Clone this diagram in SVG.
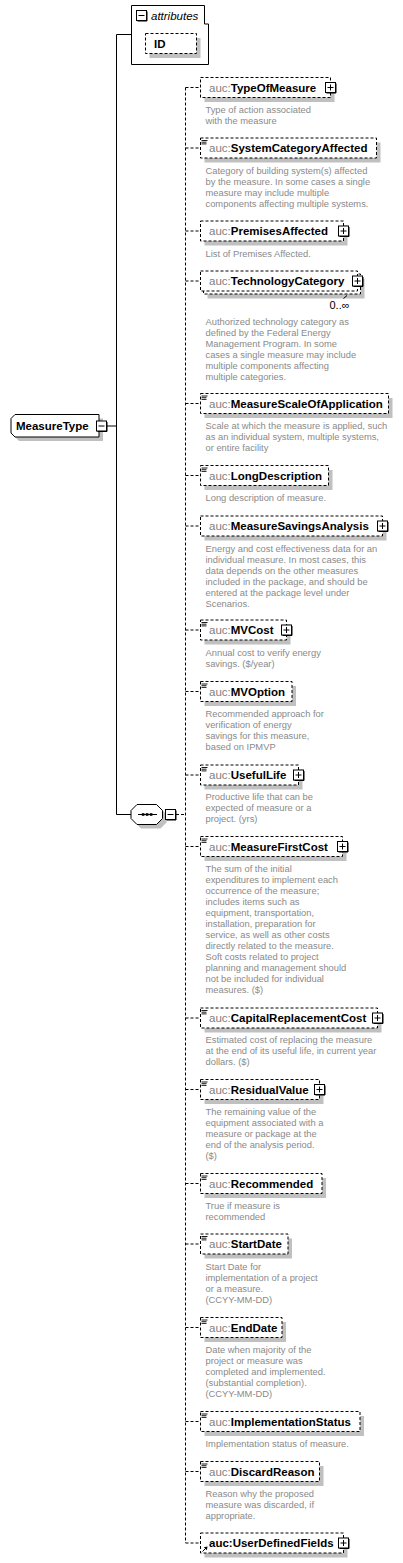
<svg xmlns="http://www.w3.org/2000/svg" width="403" height="1563" viewBox="0 0 403 1563">
<style>
.bg{fill:#fff}
.box{fill:#fff;stroke:#000;stroke-width:1;stroke-dasharray:3,2}
.sbox{fill:#fff;stroke:#000;stroke-width:1}
.sh{fill:#c0c0c0}
.name{font-family:"Liberation Sans",Arial,sans-serif;font-size:11.5px;font-weight:bold;fill:#000}
.pfx{font-weight:normal;fill:#808080}
.desc{font-family:"Liberation Sans",Arial,sans-serif;font-size:9.35px;fill:#8a8a8a}
.occ{font-family:"Liberation Sans",Arial,sans-serif;font-size:11px;fill:#000}
.attr{font-family:"Liberation Sans",Arial,sans-serif;font-size:11.5px;font-style:italic;fill:#000}
.ln{stroke:#000;stroke-width:1;fill:none}
.dln{stroke:#000;stroke-width:1;fill:none;stroke-dasharray:3,2}
</style>
<defs>
<g id="plus"><rect x="-5" y="-5" width="10" height="10" fill="#fff" stroke="#000"/><path d="M5.5,-4 V5.5 H-4" stroke="#000" fill="none"/><path d="M-3,0 H3 M0,-3 V3" stroke="#000" fill="none"/></g>
<g id="minus"><rect x="-5" y="-5" width="10" height="10" fill="#fff" stroke="#000"/><path d="M5.5,-4 V5.5 H-4" stroke="#000" fill="none"/><path d="M-3,0 H3" stroke="#000" fill="none"/></g>
<path id="eq" d="M0,0.5 H6 M0,2.2 H5 M0,3.9 H5" stroke="#000" stroke-width="0.9" fill="none"/>
</defs>
<rect class="bg" x="0" y="0" width="403" height="1563"/>

<g id="connectors">
<path class="ln" d="M116.5,34.5 V814.5 M116.5,34.5 H131.5 M106.5,426 H116.5 M116.5,814.5 H131 M162.5,814.5 H165.5"/>
<path class="dln" d="M176,814.5 H185.5 M185.5,87.5 V1543"/>
<path class="dln" d="M185.5,87.5 H200.5 M185.5,148 H200.5 M185.5,231 H200.5 M185.5,281 H200.5 M185.5,403.5 H200.5 M185.5,475.5 H200.5 M185.5,526 H200.5 M185.5,630 H200.5 M185.5,691.5 H200.5 M185.5,775 H200.5 M185.5,846.5 H200.5 M185.5,1018 H200.5 M185.5,1089.5 H200.5 M185.5,1183.5 H200.5 M185.5,1244 H200.5 M185.5,1327.5 H200.5 M185.5,1421.5 H200.5 M185.5,1471.5 H200.5 M185.5,1543 H200.5"/>
</g>

<g id="MeasureType">
<path class="sh" d="M19,418.5 H103 V441 H19 L15,437 V422.5 Z"/>
<path class="sbox" d="M15,414.5 H99 V437 H15 L11,433 V418.5 Z"/>
<text class="name" x="16" y="430">MeasureType</text>
<use href="#minus" x="101.5" y="426"/>
</g>

<g id="attributes">
<path class="sbox" d="M131.5,5.5 H204.5 V24 H208.5 V64.5 H131.5 Z"/>
<use href="#minus" x="141.5" y="15.5"/>
<text class="attr" x="151" y="19.5">attributes</text>
<g id="attr-ID">
<rect class="sh" x="149.5" y="38" width="51" height="20"/>
<rect class="box" x="145.5" y="33.5" width="51" height="20"/>
<text class="name" x="154" y="47.5">ID</text>
</g>
</g>

<g id="sequence">
<path class="sh" d="M141,808.5 H160.5 L166.5,814.5 V822.5 L160.5,828.5 H141 L135,822.5 V814.5 Z"/>
<path class="sbox" d="M137,804.5 H156.5 L162.5,810.5 V818.5 L156.5,824.5 H137 L131,818.5 V810.5 Z"/>
<path class="ln" d="M138,814.5 H157"/>
<rect x="141.8" y="813.2" width="2.6" height="2.6" fill="#000"/>
<rect x="145.8" y="813.2" width="2.6" height="2.6" fill="#000"/>
<rect x="149.8" y="813.2" width="2.6" height="2.6" fill="#000"/>
<use href="#minus" x="170.5" y="814.5"/>
</g>

<g id="TypeOfMeasure">
<rect class="sh" x="204.5" y="82" width="130" height="20"/>
<rect class="box" x="200.5" y="77.5" width="130" height="20"/>
<text class="name" x="209" y="91.5"><tspan class="pfx">auc:</tspan>TypeOfMeasure</text>
<use href="#plus" x="330.5" y="87.5"/>
<text class="desc" y="113"><tspan x="205.5">Type of action associated</tspan><tspan x="205.5" dy="11">with the measure</tspan></text>
</g>

<g id="SystemCategoryAffected">
<rect class="sh" x="204.5" y="142.5" width="176" height="20"/>
<rect class="box" x="200.5" y="138" width="176" height="20"/>
<use href="#eq" x="201.5" y="140"/>
<text class="name" x="209" y="152"><tspan class="pfx">auc:</tspan>SystemCategoryAffected</text>
<text class="desc" y="173.5"><tspan x="205.5">Category of building system(s) affected</tspan><tspan x="205.5" dy="11">by the measure. In some cases a single</tspan><tspan x="205.5" dy="11">measure may include multiple</tspan><tspan x="205.5" dy="11">components affecting multiple systems.</tspan></text>
</g>

<g id="PremisesAffected">
<rect class="sh" x="204.5" y="225.5" width="143" height="20"/>
<rect class="box" x="200.5" y="221" width="143" height="20"/>
<text class="name" x="209" y="235"><tspan class="pfx">auc:</tspan>PremisesAffected</text>
<use href="#plus" x="343.5" y="231"/>
<text class="desc" y="256.5"><tspan x="205.5">List of Premises Affected.</tspan></text>
</g>

<g id="TechnologyCategory">
<rect class="sh" x="207.5" y="278.5" width="157" height="20"/>
<rect class="box" x="203.5" y="274" width="157" height="20"/>
<rect class="box" x="200.5" y="271" width="157" height="20"/>
<text class="name" x="209" y="285"><tspan class="pfx">auc:</tspan>TechnologyCategory</text>
<use href="#plus" x="357.5" y="281"/>
<path class="ln" d="M343.5,298.5 L347,295.5"/>
<text class="occ" x="329.5" y="309">0..∞</text>
<text class="desc" y="325"><tspan x="205.5">Authorized technology category as</tspan><tspan x="205.5" dy="11">defined by the Federal Energy</tspan><tspan x="205.5" dy="11">Management Program. In some</tspan><tspan x="205.5" dy="11">cases a single measure may include</tspan><tspan x="205.5" dy="11">multiple components affecting</tspan><tspan x="205.5" dy="11">multiple categories.</tspan></text>
</g>

<g id="MeasureScaleOfApplication">
<rect class="sh" x="204.5" y="398" width="188" height="20"/>
<rect class="box" x="200.5" y="393.5" width="188" height="20"/>
<use href="#eq" x="201.5" y="395.5"/>
<text class="name" x="209" y="407.5"><tspan class="pfx">auc:</tspan>MeasureScaleOfApplication</text>
<text class="desc" y="429"><tspan x="205.5">Scale at which the measure is applied, such</tspan><tspan x="205.5" dy="11">as an individual system, multiple systems,</tspan><tspan x="205.5" dy="11">or entire facility</tspan></text>
</g>

<g id="LongDescription">
<rect class="sh" x="204.5" y="470" width="128" height="20"/>
<rect class="box" x="200.5" y="465.5" width="128" height="20"/>
<use href="#eq" x="201.5" y="467.5"/>
<text class="name" x="209" y="479.5"><tspan class="pfx">auc:</tspan>LongDescription</text>
<text class="desc" y="501"><tspan x="205.5">Long description of measure.</tspan></text>
</g>

<g id="MeasureSavingsAnalysis">
<rect class="sh" x="204.5" y="520.5" width="182" height="20"/>
<rect class="box" x="200.5" y="516" width="182" height="20"/>
<text class="name" x="209" y="530"><tspan class="pfx">auc:</tspan>MeasureSavingsAnalysis</text>
<use href="#plus" x="382.5" y="526"/>
<text class="desc" y="551.5"><tspan x="205.5">Energy and cost effectiveness data for an</tspan><tspan x="205.5" dy="11">individual measure. In most cases, this</tspan><tspan x="205.5" dy="11">data depends on the other measures</tspan><tspan x="205.5" dy="11">included in the package, and should be</tspan><tspan x="205.5" dy="11">entered at the package level under</tspan><tspan x="205.5" dy="11">Scenarios.</tspan></text>
</g>

<g id="MVCost">
<rect class="sh" x="204.5" y="624.5" width="86" height="20"/>
<rect class="box" x="200.5" y="620" width="86" height="20"/>
<use href="#eq" x="201.5" y="622"/>
<text class="name" x="209" y="634"><tspan class="pfx">auc:</tspan>MVCost</text>
<use href="#plus" x="286.5" y="630"/>
<text class="desc" y="655.5"><tspan x="205.5">Annual cost to verify energy</tspan><tspan x="205.5" dy="11">savings. ($/year)</tspan></text>
</g>

<g id="MVOption">
<rect class="sh" x="204.5" y="686" width="91.5" height="20"/>
<rect class="box" x="200.5" y="681.5" width="91.5" height="20"/>
<use href="#eq" x="201.5" y="683.5"/>
<text class="name" x="209" y="695.5"><tspan class="pfx">auc:</tspan>MVOption</text>
<text class="desc" y="717"><tspan x="205.5">Recommended approach for</tspan><tspan x="205.5" dy="11">verification of energy</tspan><tspan x="205.5" dy="11">savings for this measure,</tspan><tspan x="205.5" dy="11">based on IPMVP</tspan></text>
</g>

<g id="UsefulLife">
<rect class="sh" x="204.5" y="769.5" width="98" height="20"/>
<rect class="box" x="200.5" y="765" width="98" height="20"/>
<use href="#eq" x="201.5" y="767"/>
<text class="name" x="209" y="779"><tspan class="pfx">auc:</tspan>UsefulLife</text>
<use href="#plus" x="298.5" y="775"/>
<text class="desc" y="800"><tspan x="205.5">Productive life that can be</tspan><tspan x="205.5" dy="11">expected of measure or a</tspan><tspan x="205.5" dy="11">project. (yrs)</tspan></text>
</g>

<g id="MeasureFirstCost">
<rect class="sh" x="204.5" y="841" width="142" height="20"/>
<rect class="box" x="200.5" y="836.5" width="142" height="20"/>
<use href="#eq" x="201.5" y="838.5"/>
<text class="name" x="209" y="850.5"><tspan class="pfx">auc:</tspan>MeasureFirstCost</text>
<use href="#plus" x="342.5" y="846.5"/>
<text class="desc" y="872"><tspan x="205.5">The sum of the initial</tspan><tspan x="205.5" dy="11">expenditures to implement each</tspan><tspan x="205.5" dy="11">occurrence of the measure;</tspan><tspan x="205.5" dy="11">includes items such as</tspan><tspan x="205.5" dy="11">equipment, transportation,</tspan><tspan x="205.5" dy="11">installation, preparation for</tspan><tspan x="205.5" dy="11">service, as well as other costs</tspan><tspan x="205.5" dy="11">directly related to the measure.</tspan><tspan x="205.5" dy="11">Soft costs related to project</tspan><tspan x="205.5" dy="11">planning and management should</tspan><tspan x="205.5" dy="11">not be included for individual</tspan><tspan x="205.5" dy="11">measures. ($)</tspan></text>
</g>

<g id="CapitalReplacementCost">
<rect class="sh" x="204.5" y="1012.5" width="177" height="20"/>
<rect class="box" x="200.5" y="1008" width="177" height="20"/>
<use href="#eq" x="201.5" y="1010"/>
<text class="name" x="209" y="1022"><tspan class="pfx">auc:</tspan>CapitalReplacementCost</text>
<use href="#plus" x="377.5" y="1018"/>
<text class="desc" y="1043"><tspan x="205.5">Estimated cost of replacing the measure</tspan><tspan x="205.5" dy="11">at the end of its useful life, in current year</tspan><tspan x="205.5" dy="11">dollars. ($)</tspan></text>
</g>

<g id="ResidualValue">
<rect class="sh" x="204.5" y="1084" width="119" height="20"/>
<rect class="box" x="200.5" y="1079.5" width="119" height="20"/>
<use href="#eq" x="201.5" y="1081.5"/>
<text class="name" x="209" y="1093.5"><tspan class="pfx">auc:</tspan>ResidualValue</text>
<use href="#plus" x="319.5" y="1089.5"/>
<text class="desc" y="1115"><tspan x="205.5">The remaining value of the</tspan><tspan x="205.5" dy="11">equipment associated with a</tspan><tspan x="205.5" dy="11">measure or package at the</tspan><tspan x="205.5" dy="11">end of the analysis period.</tspan><tspan x="205.5" dy="11">($)</tspan></text>
</g>

<g id="Recommended">
<rect class="sh" x="204.5" y="1178" width="121.5" height="20"/>
<rect class="box" x="200.5" y="1173.5" width="121.5" height="20"/>
<use href="#eq" x="201.5" y="1175.5"/>
<text class="name" x="209" y="1187.5"><tspan class="pfx">auc:</tspan>Recommended</text>
<text class="desc" y="1209"><tspan x="205.5">True if measure is</tspan><tspan x="205.5" dy="11">recommended</tspan></text>
</g>

<g id="StartDate">
<rect class="sh" x="204.5" y="1238.5" width="87.5" height="20"/>
<rect class="box" x="200.5" y="1234" width="87.5" height="20"/>
<use href="#eq" x="201.5" y="1236"/>
<text class="name" x="209" y="1248"><tspan class="pfx">auc:</tspan>StartDate</text>
<text class="desc" y="1269.5"><tspan x="205.5">Start Date for</tspan><tspan x="205.5" dy="11">implementation of a project</tspan><tspan x="205.5" dy="11">or a measure.</tspan><tspan x="205.5" dy="11">(CCYY-MM-DD)</tspan></text>
</g>

<g id="EndDate">
<rect class="sh" x="204.5" y="1322" width="81.5" height="20"/>
<rect class="box" x="200.5" y="1317.5" width="81.5" height="20"/>
<use href="#eq" x="201.5" y="1319.5"/>
<text class="name" x="209" y="1331.5"><tspan class="pfx">auc:</tspan>EndDate</text>
<text class="desc" y="1353"><tspan x="205.5">Date when majority of the</tspan><tspan x="205.5" dy="11">project or measure was</tspan><tspan x="205.5" dy="11">completed and implemented.</tspan><tspan x="205.5" dy="11">(substantial completion).</tspan><tspan x="205.5" dy="11">(CCYY-MM-DD)</tspan></text>
</g>

<g id="ImplementationStatus">
<rect class="sh" x="204.5" y="1416" width="159.5" height="20"/>
<rect class="box" x="200.5" y="1411.5" width="159.5" height="20"/>
<use href="#eq" x="201.5" y="1413.5"/>
<text class="name" x="209" y="1425.5"><tspan class="pfx">auc:</tspan>ImplementationStatus</text>
<text class="desc" y="1447"><tspan x="205.5">Implementation status of measure.</tspan></text>
</g>

<g id="DiscardReason">
<rect class="sh" x="204.5" y="1466" width="119" height="20"/>
<rect class="box" x="200.5" y="1461.5" width="119" height="20"/>
<use href="#eq" x="201.5" y="1463.5"/>
<text class="name" x="209" y="1475.5"><tspan class="pfx">auc:</tspan>DiscardReason</text>
<text class="desc" y="1497"><tspan x="205.5">Reason why the proposed</tspan><tspan x="205.5" dy="11">measure was discarded, if</tspan><tspan x="205.5" dy="11">appropriate.</tspan></text>
</g>

<g id="UserDefinedFields">
<rect class="sh" x="204.5" y="1537.5" width="143" height="20"/>
<rect class="box" x="200.5" y="1533" width="143" height="20"/>
<path class="ln" d="M202.5,1551.5 L206,1548"/>
<path d="M207.5,1546.5 L203.8,1547.2 L206.8,1550.2 Z" fill="#000"/>
<text class="name" x="209" y="1547">auc:UserDefinedFields</text>
<use href="#plus" x="343.5" y="1543"/>
</g>
</svg>
